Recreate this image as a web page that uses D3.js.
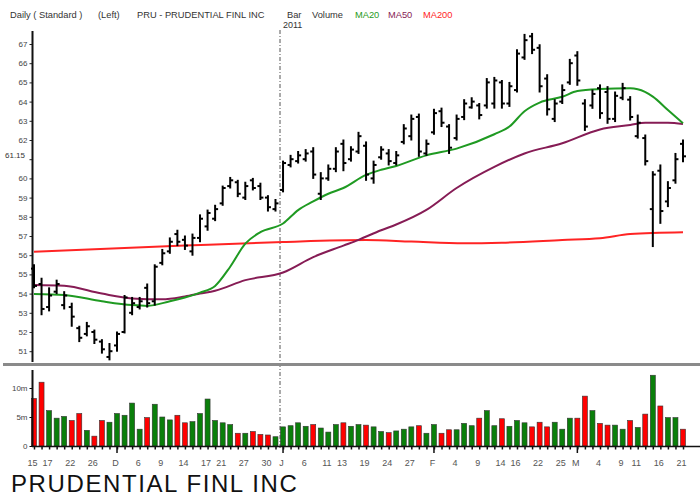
<!DOCTYPE html>
<html>
<head>
<meta charset="utf-8">
<script src="https://cdn.jsdelivr.net/npm/d3@7"></script>
<style>
  body { margin: 0; background: #fff; }
  text { font-family: "Liberation Sans", Arial, sans-serif; }
</style>
</head>
<body>
<div class="canvas"></div>
<script>
// daily bars, Nov 15 2010 .. Mar 21 2011 (87 sessions)
const opens  = [55.3,54.5,53.3,54.1,53.4,53.3,52.2,51.9,52.0,51.5,50.7,51.3,52.0,53.0,53.3,54.3,53.6,55.6,56.2,57.1,
                56.8,56.2,56.9,57.5,57.9,58.7,59.6,59.8,59.0,59.9,59.6,59.0,58.4,59.4,60.7,60.9,61.0,61.4,59.2,60.0,
                60.5,61.8,61.0,61.4,61.7,60.0,61.1,61.3,60.8,61.9,62.2,63.2,61.3,62.4,63.5,62.7,62.1,63.2,63.7,63.8,
                63.8,63.9,65.0,63.9,64.6,66.3,67.4,66.8,65.2,63.1,64.0,65.0,66.4,63.9,63.8,64.7,64.5,63.1,64.2,64.1,
                62.2,62.1,58.4,60.4,58.8,59.9,61.8];
const highs  = [55.5,54.8,54.3,54.7,54.1,53.5,52.3,52.5,52.1,51.6,51.4,52.0,53.9,53.8,53.8,54.5,55.5,56.3,56.9,57.3,
                57.0,57.1,58.1,58.35,58.6,59.6,60.05,59.9,59.8,60.0,59.75,59.1,58.9,60.9,61.2,61.4,61.5,61.6,60.3,60.7,
                61.6,62.0,61.65,62.4,61.9,60.9,61.65,61.5,61.4,62.8,63.3,63.35,62.0,63.6,63.66,62.8,63.3,64.1,64.2,63.9,
                65.2,65.26,65.1,65.0,66.7,67.5,67.55,66.96,65.4,64.1,64.87,66.2,66.6,64.1,64.6,64.87,64.78,64.5,64.95,64.26,
                63.3,62.26,60.35,60.7,59.83,61.3,62.0];
const lows   = [54.3,52.9,53.1,54.0,53.2,52.3,51.5,51.8,51.4,50.9,50.55,51.0,51.95,52.9,53.2,53.3,53.4,55.5,56.1,56.5,
                56.3,56.0,56.7,57.3,57.8,58.6,59.5,59.05,58.9,59.4,58.9,58.3,58.3,59.3,60.6,60.8,60.9,60.0,58.9,59.9,
                60.35,60.4,60.9,61.3,59.9,59.75,61.0,60.7,60.7,61.8,62.0,61.15,61.2,62.3,62.7,61.3,62.0,63.06,63.66,63.1,
                63.66,63.66,63.66,63.75,64.5,66.2,66.5,64.5,63.3,62.96,63.9,64.9,64.85,62.5,63.65,63.13,62.87,62.96,64.1,63.04,
                62.1,60.7,56.45,57.66,58.53,59.75,60.87];
const closes = [54.4,53.2,53.9,54.5,53.9,52.8,51.7,52.3,51.6,51.1,51.0,51.9,53.8,53.5,53.6,53.5,55.4,56.1,56.7,56.7,
                56.5,56.9,57.9,58.2,58.4,59.5,59.9,59.2,59.6,59.5,59.0,58.5,58.7,60.8,61.0,61.2,61.3,60.2,60.0,60.5,
                61.4,60.8,61.5,62.2,60.2,60.7,61.5,60.9,61.2,62.6,63.1,61.4,61.8,63.4,62.9,61.6,63.1,63.9,64.0,63.3,
                65.0,65.1,63.9,64.8,66.5,67.2,66.7,64.8,63.6,63.9,64.6,66.0,65.1,62.7,64.4,63.4,63.1,64.3,64.7,63.2,
                62.9,60.9,60.2,58.3,59.5,61.0,61.15];
// volume in millions, 1 = up day (green), 0 = down day (red)
const volumes = [8.2,11.0,6.1,4.8,5.1,4.4,5.6,2.7,1.7,4.4,4.1,5.6,5.3,7.4,2.9,4.9,7.2,5.0,4.5,5.3,
                 4.0,4.2,5.6,8.1,4.4,4.0,3.7,2.2,2.2,2.5,2.0,1.9,1.6,3.3,3.5,4.0,3.4,3.7,3.1,2.4,
                 3.7,4.0,3.4,3.7,3.6,3.3,2.5,2.3,2.6,2.9,3.3,3.5,2.2,3.7,2.2,2.8,2.8,3.9,3.5,4.8,
                 6.1,3.5,4.7,3.4,4.4,4.0,3.3,4.1,3.3,4.1,2.9,4.8,4.8,8.6,6.1,3.9,3.6,3.6,2.9,4.4,
                 3.2,5.5,12.2,6.9,4.9,4.9,2.9];
const upDay = [0,0,1,1,1,0,0,1,0,0,1,1,1,1,1,0,1,1,1,0,
               0,1,1,1,1,1,1,0,1,0,0,0,1,1,1,1,1,0,1,1,
               1,0,1,1,0,1,1,0,1,1,1,0,1,1,0,0,1,1,1,0,
               1,1,0,1,1,1,0,0,0,1,1,1,0,0,1,0,0,1,1,0,
               1,0,1,0,1,1,0];

// moving averages read at sampled sessions
const ma20Idx = [0,4,9,13,15,18,20,22,24,26,28,30,33,35,37,39,41,44,46,48,52,56,61,63,65,67,70,72,75,79,80,82,84,86];
const ma20Val = [53.98,53.93,53.6,53.4,53.36,53.6,53.8,54.05,54.4,55.4,56.6,57.2,57.65,58.35,58.8,59.2,59.5,60.18,60.45,60.65,
                 61.2,61.55,62.3,62.7,63.5,63.95,64.25,64.55,64.65,64.69,64.64,64.26,63.56,62.87];
const ma50Idx = [0,4,9,13,17,20,22,24,28,33,37,41,43,46,48,52,56,61,65,70,75,79,81,84,86];
const ma50Val = [54.45,54.41,54.0,53.75,53.7,53.85,54.0,54.15,54.7,55.1,55.9,56.5,56.8,57.3,57.6,58.36,59.5,60.6,61.3,61.83,
                 62.55,62.78,62.9,62.9,62.83];
const ma200Idx = [0,20,33,44,50,57,62,70,75,79,86];
const ma200Val = [56.18,56.5,56.69,56.79,56.71,56.62,56.65,56.79,56.88,57.1,57.2];

const tickIdx  = [0,2,5,8,11,14,17,20,23,25,28,31,33,36,39,41,44,47,50,53,56,59,62,64,67,70,72,75,78,80,83,86];
const tickText = ['15','17','22','26','D','6','9','14','17','21','27','30','J','6','11','13','19','24','27','F',
                  '4','9','14','16','22','25','M','4','9','11','16','21'];
const monthIdx = [11,33,53,72];
const priceTicks = d3.range(51, 68);
const volTicks = [0, 5, 10];
const volTickText = ['0', '5m', '10m'];
const lastPrice = 61.15;

const W = 700, H = 498;
const svg = d3.select('.canvas').append('svg')
  .attr('width', W).attr('height', H);

const x = d3.scaleLinear().domain([0, 86]).range([34, 683]);
const y = d3.scaleLinear().domain([51, 67]).range([351.2, 44]);
const yv = d3.scaleLinear().domain([0, 10]).range([446, 388]);

const GREEN = '#1f9a22', PURPLE = '#861c55', RED = '#ff2424';

// header
[['Daily ( Standard )', 10, '#333'], ['(Left)', 98, '#333'], ['PRU - PRUDENTIAL FINL INC', 137, '#333'],
 ['Bar', 287, '#333'], ['Volume', 312, '#333'], ['MA20', 355, GREEN], ['MA50', 388, PURPLE], ['MA200', 423, RED]]
  .forEach(([t, px, c]) => {
    svg.append('text').attr('x', px).attr('y', 17.5).attr('font-size', 9.3).attr('fill', c).text(t);
  });
svg.append('text').attr('x', 283).attr('y', 27.5).attr('font-size', 9).attr('fill', '#333').text('2011');

// year separator
svg.append('line')
  .attr('x1', 280).attr('x2', 280).attr('y1', 30).attr('y2', 450)
  .attr('stroke', '#555').attr('stroke-width', 1).attr('stroke-dasharray', '4,2,1,2');

// price axis (the 61 label sits under the last-price tag)
const pAxis = svg.append('g').attr('transform', 'translate(32.5,0)')
  .call(d3.axisLeft(y).tickValues(priceTicks).tickSize(3)
    .tickFormat(d => Math.abs(d - lastPrice) < 0.5 ? '' : d3.format('d')(d)));
pAxis.select('.domain').remove();
pAxis.selectAll('text').attr('font-size', 8).attr('fill', '#444').attr('dx', 1);
pAxis.selectAll('line').attr('stroke', '#222');
svg.append('line').attr('x1', 32.5).attr('x2', 32.5).attr('y1', 31).attr('y2', 362)
  .attr('stroke', '#111').attr('stroke-width', 2);

svg.append('text').attr('x', 5).attr('y', y(lastPrice) + 2).attr('font-size', 8).attr('fill', '#333')
  .text(d3.format('.2f')(lastPrice));

// moving averages
const maLine = d3.line().x(d => x(d[0])).y(d => y(d[1])).curve(d3.curveMonotoneX);
[[ma200Idx, ma200Val, RED], [ma50Idx, ma50Val, PURPLE], [ma20Idx, ma20Val, GREEN]].forEach(([ix, vals, c]) => {
  svg.append('path').datum(ix.map((d, k) => [d, vals[k]]))
    .attr('d', maLine).attr('fill', 'none').attr('stroke', c).attr('stroke-width', 2);
});

// OHLC bars
const bars = svg.append('g').attr('stroke', '#000').attr('stroke-width', 2);
highs.forEach((h, i) => {
  const cx = x(i);
  bars.append('line').attr('x1', cx).attr('x2', cx).attr('y1', y(h) - 0.5).attr('y2', y(lows[i]) + 0.5);
  bars.append('line').attr('x1', cx - 3).attr('x2', cx).attr('y1', y(opens[i])).attr('y2', y(opens[i]));
  bars.append('line').attr('x1', cx).attr('x2', cx + 3).attr('y1', y(closes[i])).attr('y2', y(closes[i]));
});

// panel divider
svg.append('line').attr('x1', 3).attr('x2', W).attr('y1', 364.5).attr('y2', 364.5)
  .attr('stroke', '#8a8a8a').attr('stroke-width', 3);

// volume
svg.append('g').selectAll('rect').data(volumes).join('rect')
  .attr('x', (d, i) => x(i) - 2.5).attr('width', 5)
  .attr('y', d => yv(d)).attr('height', d => yv(0) - yv(d))
  .attr('fill', (d, i) => upDay[i] ? '#0a7f0a' : '#ff0000')
  .attr('stroke', '#333').attr('stroke-width', 0.6);

const vAxis = svg.append('g').attr('transform', 'translate(32.5,0)')
  .call(d3.axisLeft(yv).tickValues(volTicks).tickSize(3).tickFormat((d, k) => volTickText[k]));
vAxis.select('.domain').remove();
vAxis.selectAll('text').attr('font-size', 8).attr('fill', '#444').attr('dx', 1);
svg.append('line').attr('x1', 32.5).attr('x2', 32.5).attr('y1', 370).attr('y2', 447)
  .attr('stroke', '#111').attr('stroke-width', 2);

// date axis
const xAxis = svg.append('g').attr('transform', 'translate(0,446.5)')
  .call(d3.axisBottom(x).tickValues(d3.range(0, 87)).tickSize(3).tickFormat(''));
xAxis.select('.domain').attr('d', `M32,0H${W}`).attr('stroke', '#111').attr('stroke-width', 1.5);
xAxis.selectAll('.tick line').attr('stroke', '#111').attr('stroke-width', 1.5);
svg.append('g').selectAll('line').data(monthIdx).join('line')
  .attr('x1', d => x(d)).attr('x2', d => x(d)).attr('y1', 446).attr('y2', 453)
  .attr('stroke', '#111').attr('stroke-width', 1.5);
svg.append('g').selectAll('text').data(tickIdx).join('text')
  .attr('x', d => x(d) - 1.5).attr('y', 466).attr('text-anchor', 'middle')
  .attr('font-size', 9).attr('fill', '#555')
  .text((d, k) => tickText[k]);

// bottom caption
svg.append('text').attr('x', 11).attr('y', 492).attr('font-size', 24).attr('letter-spacing', 1.6)
  .attr('fill', '#111').text('PRUDENTIAL FINL INC');
</script>
</body>
</html>
